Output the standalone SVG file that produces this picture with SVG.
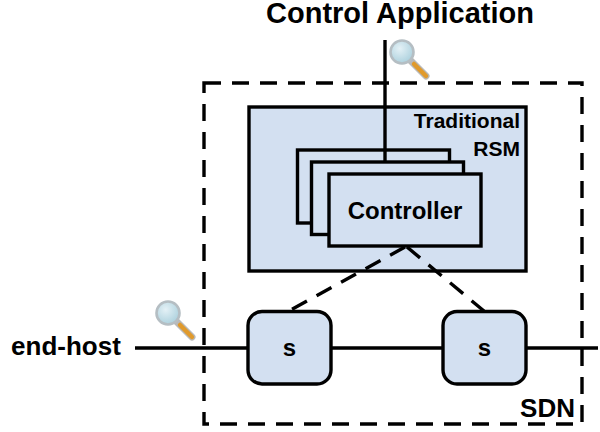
<svg xmlns="http://www.w3.org/2000/svg" width="600" height="432" viewBox="0 0 600 432">
<defs>
<style>
.box{fill:#d3e0f1;stroke:#000;stroke-width:3.4}
.ln{fill:none;stroke:#000;stroke-width:3.4}
.ds{fill:none;stroke:#000;stroke-width:3.4;stroke-dasharray:17 11}
text{font-family:"Liberation Sans",Arial,sans-serif;font-weight:bold;fill:#000}
</style>
<radialGradient id="gl" cx="0.4" cy="0.35" r="0.7"><stop offset="0" stop-color="#e4f1f6"/><stop offset="1" stop-color="#a9cfdc"/></radialGradient>
<g id="mag">
<path d="M19 19L36 36" stroke="#b9b9b9" stroke-width="7" stroke-linecap="round"/>
<path d="M24 24L36 36" stroke="#e09a2c" stroke-width="4.5" stroke-linecap="round"/>
<circle cx="12" cy="12" r="11.5" fill="url(#gl)" stroke="#b5bec3" stroke-width="2.6"/>
</g>
</defs>
<rect width="600" height="432" fill="#fff"/>
<g id="sdn"><rect class="ds" x="204" y="83" width="378" height="341"/><text x="575" y="417" font-size="26" text-anchor="end">SDN</text></g>
<g id="rsm"><rect class="box" x="249" y="107" width="277" height="164"/>
<text x="520" y="128" font-size="21" text-anchor="end">Traditional</text>
<text x="520" y="156" font-size="21" text-anchor="end">RSM</text></g>
<g id="controller-back"><rect class="box" x="297.500" y="150" width="152" height="73"/></g>
<g id="controller-mid"><rect class="box" x="311.500" y="162" width="152" height="72.500"/></g>
<g id="connectors">
<path class="ln" d="M385 40V161"/>
<path class="ln" d="M135 348H248M331 348H443M527 348H598"/>
<path class="ds" d="M405 247L289 311" stroke-dasharray="19 12"/>
<path class="ds" d="M407 247L484 311" stroke-dasharray="19 12"/>
</g>
<g id="controller"><rect class="box" x="329" y="174" width="152" height="72"/><text x="405" y="219" font-size="24" text-anchor="middle">Controller</text></g>
<g id="switch-1"><rect class="box" x="248" y="311.500" width="83" height="72.500" rx="14"/><text x="289.500" y="356" font-size="24" text-anchor="middle">s</text></g>
<g id="switch-2"><rect class="box" x="443" y="311.500" width="83" height="72.500" rx="14"/><text x="484.500" y="356" font-size="24" text-anchor="middle">s</text></g>
<text x="400" y="23" font-size="29" text-anchor="middle">Control Application</text>
<text x="66" y="355" font-size="26" text-anchor="middle">end-host</text>
<use href="#mag" x="390" y="40"/>
<use href="#mag" x="156" y="301"/>
</svg>
